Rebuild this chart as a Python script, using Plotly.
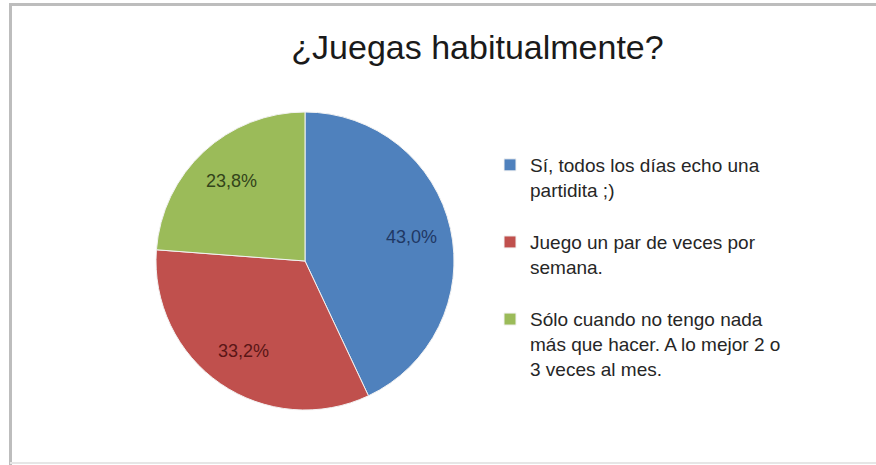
import math
import plotly.graph_objects as go

title_text = "¿Juegas habitualmente?"
categories = [
    "Sí, todos los días echo una<br>partidita ;)",
    "Juego un par de veces por<br>semana.",
    "Sólo cuando no tengo nada<br>más que hacer. A lo mejor 2 o<br>3 veces al mes.",
]
values = [43.0, 33.2, 23.8]
slice_colors = ["#4F81BD", "#C0504D", "#9BBB59"]
label_colors = ["#1F3864", "#5A1616", "#33441A"]

W, H = 876, 465
CX, CY, R = 305, 261, 149  # pie centre / radius in pixels
LABEL_R = 0.73             # labels sit at this fraction of the radius

fig = go.Figure()
fig.add_trace(go.Pie(
    labels=[c + "<br> " for c in categories],
    values=values,
    sort=False,
    direction="clockwise",
    rotation=0,
    marker=dict(colors=slice_colors, line=dict(color="#f2f2f2", width=1)),
    textinfo="none",
    domain=dict(x=[(CX - R) / W, (CX + R) / W], y=[(H - CY - R) / H, (H - CY + R) / H]),
    hoverinfo="label+percent",
    showlegend=True,
))

# percentage labels placed along each slice's mid angle (derived from the values)
total = sum(values)
annotations = []
cum = 0.0
for v, col in zip(values, label_colors):
    mid = (cum + v / 2) / total * 2 * math.pi
    cum += v
    px = CX + LABEL_R * R * math.sin(mid)
    py = CY - LABEL_R * R * math.cos(mid)
    annotations.append(dict(
        x=px / W, y=1 - py / H, xref="paper", yref="paper",
        text=f"{v / total * 100:.1f}%".replace(".", ","),
        showarrow=False, xanchor="center", yanchor="middle",
        font=dict(size=18, color=col, family="Liberation Sans, Arial"),
    ))

fig.update_layout(
    width=W, height=H,
    margin=dict(l=0, r=0, t=0, b=0),
    paper_bgcolor="white",
    plot_bgcolor="white",
    separators=",.",
    font=dict(family="Liberation Sans, Arial", color="#262626"),
    title=dict(text=title_text, x=(290 + 665) / 2 / W, xanchor="center",
               y=1 - 47 / H, yanchor="middle",
               font=dict(size=34, color="#1a1a1a", family="Liberation Sans, Arial")),
    legend=dict(x=490 / W, xanchor="left", y=1 - 146 / H, yanchor="top",
                valign="top", font=dict(size=19, color="#262626"),
                itemwidth=30, bgcolor="rgba(0,0,0,0)"),
    annotations=annotations,
    shapes=[
        dict(type="line", xref="paper", yref="paper", x0=10.5 / W, x1=10.5 / W, y0=0, y1=1 - 3 / H,
             line=dict(color="#bdbdbd", width=3)),
        dict(type="line", xref="paper", yref="paper", x0=9 / W, x1=1, y0=1 - 4.5 / H, y1=1 - 4.5 / H,
             line=dict(color="#bdbdbd", width=3)),
        dict(type="line", xref="paper", yref="paper", x0=10 / W, x1=1, y0=2 / H, y1=2 / H,
             line=dict(color="#e6e6e6", width=2)),
    ],
)

fig.write_html("out.html", config={"displayModeBar": False},
               post_script="document.body.style.margin='0';")
